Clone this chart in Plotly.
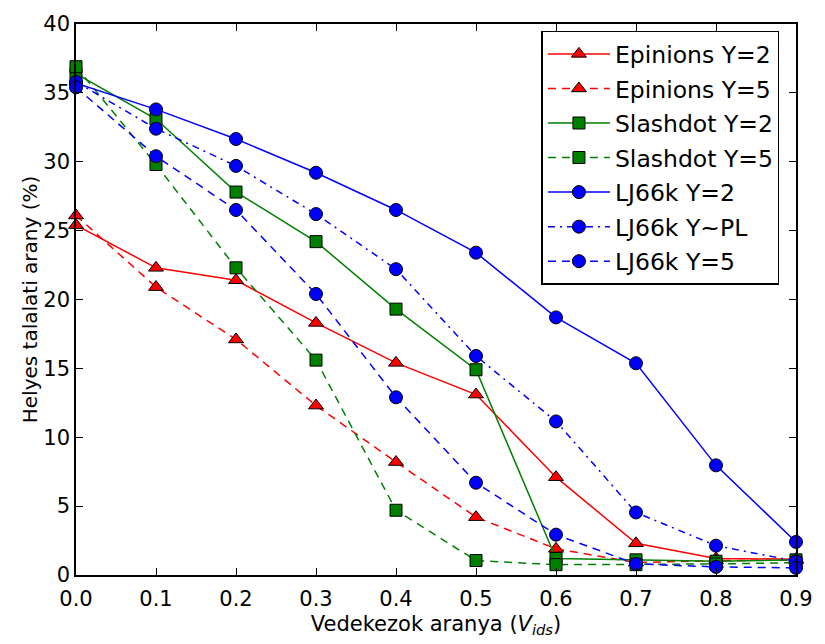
import plotly.graph_objects as go

x_vals = [0.0, 0.1, 0.2, 0.3, 0.4, 0.5, 0.6, 0.7, 0.8, 0.9]

epinions_y2 = [25.4, 22.3, 21.4, 18.3, 15.4, 13.1, 7.1, 2.3, 1.2, 1.15]
epinions_y5 = [26.1, 20.9, 17.1, 12.3, 8.2, 4.2, 1.9, 0.9, 1.05, 1.08]
slashdot_y2 = [36.4, 33.1, 27.8, 24.2, 19.3, 14.9, 1.2, 1.1, 1.0, 1.1]
slashdot_y5 = [36.9, 29.8, 22.3, 15.6, 4.7, 1.05, 0.75, 0.75, 0.8, 0.9]
lj_y2 = [35.7, 33.8, 31.65, 29.2, 26.5, 23.4, 18.7, 15.37, 7.96, 2.4]
lj_ypl = [35.8, 32.4, 29.7, 26.2, 22.2, 15.9, 11.15, 4.54, 2.13, 1.0]
lj_y5 = [35.4, 30.4, 26.5, 20.4, 12.9, 6.7, 2.93, 0.8, 0.59, 0.52]

series_names = ["Epinions Y=2", "Epinions Y=5", "Slashdot Y=2", "Slashdot Y=5",
                "LJ66k Y=2", "LJ66k Y~PL", "LJ66k Y=5"]
series_values = [epinions_y2, epinions_y5, slashdot_y2, slashdot_y5, lj_y2, lj_ypl, lj_y5]
series_colors = ["#ff0000", "#ff0000", "#008000", "#008000", "#0000ff", "#0000ff", "#0000ff"]
series_symbols = ["triangle-up", "triangle-up", "square", "square", "circle", "circle", "circle"]
series_dash = ["solid", "8px,6px", "solid", "8px,6px", "solid", "7px,5px,2px,5px", "8px,6px"]

y_ticks = [0, 5, 10, 15, 20, 25, 30, 35, 40]
x_ticks = [0.0, 0.1, 0.2, 0.3, 0.4, 0.5, 0.6, 0.7, 0.8, 0.9]

fig = go.Figure()
for i, (name, vals) in enumerate(zip(series_names, series_values)):
    fig.add_trace(go.Scatter(
        x=x_vals, y=vals, name=name, mode="lines+markers",
        legendgroup=f"g{i}",
        line=dict(color=series_colors[i], width=1.5, dash=series_dash[i]),
        marker=dict(symbol=series_symbols[i], size=13 if series_symbols[i] != "square" else 12,
                    color=series_colors[i], line=dict(color="black", width=1)),
        cliponaxis=False,
    ))

font = "DejaVu Sans"
fig.update_layout(
    width=825, height=644,
    margin=dict(l=76, r=21, t=15, b=65),
    plot_bgcolor="white", paper_bgcolor="white",
    font=dict(family=font, size=21, color="black"),
    showlegend=True,
    legend=dict(
        x=0.977, y=0.988, xanchor="right", yanchor="top",
        bordercolor="black", borderwidth=1.5, bgcolor="white",
        font=dict(family=font, size=23.5, color="black"),
        tracegroupgap=1, itemwidth=62,
    ),
    xaxis=dict(
        range=[0, 0.9], tickvals=x_ticks, ticktext=[f"{v:.1f}" for v in x_ticks],
        showline=True, linecolor="black", linewidth=1.5, mirror="ticks",
        ticks="inside", ticklen=7, tickcolor="black", tickwidth=1,
        showgrid=False, zeroline=False, ticklabelstandoff=4,
        title=dict(text="Vedekezok aranya (<i>V</i><sub><i>ids</i></sub>)",
                   font=dict(size=21), standoff=6),
        tickfont=dict(size=21),
    ),
    yaxis=dict(
        range=[0, 40], tickvals=y_ticks,
        showline=True, linecolor="black", linewidth=1.5, mirror="ticks",
        ticks="inside", ticklen=7, tickcolor="black", tickwidth=1,
        showgrid=False, zeroline=False,
        title=dict(text="Helyes talalati arany (%)", font=dict(size=20), standoff=0),
        tickfont=dict(size=21),
    ),
)

fig.write_html("out.html")
